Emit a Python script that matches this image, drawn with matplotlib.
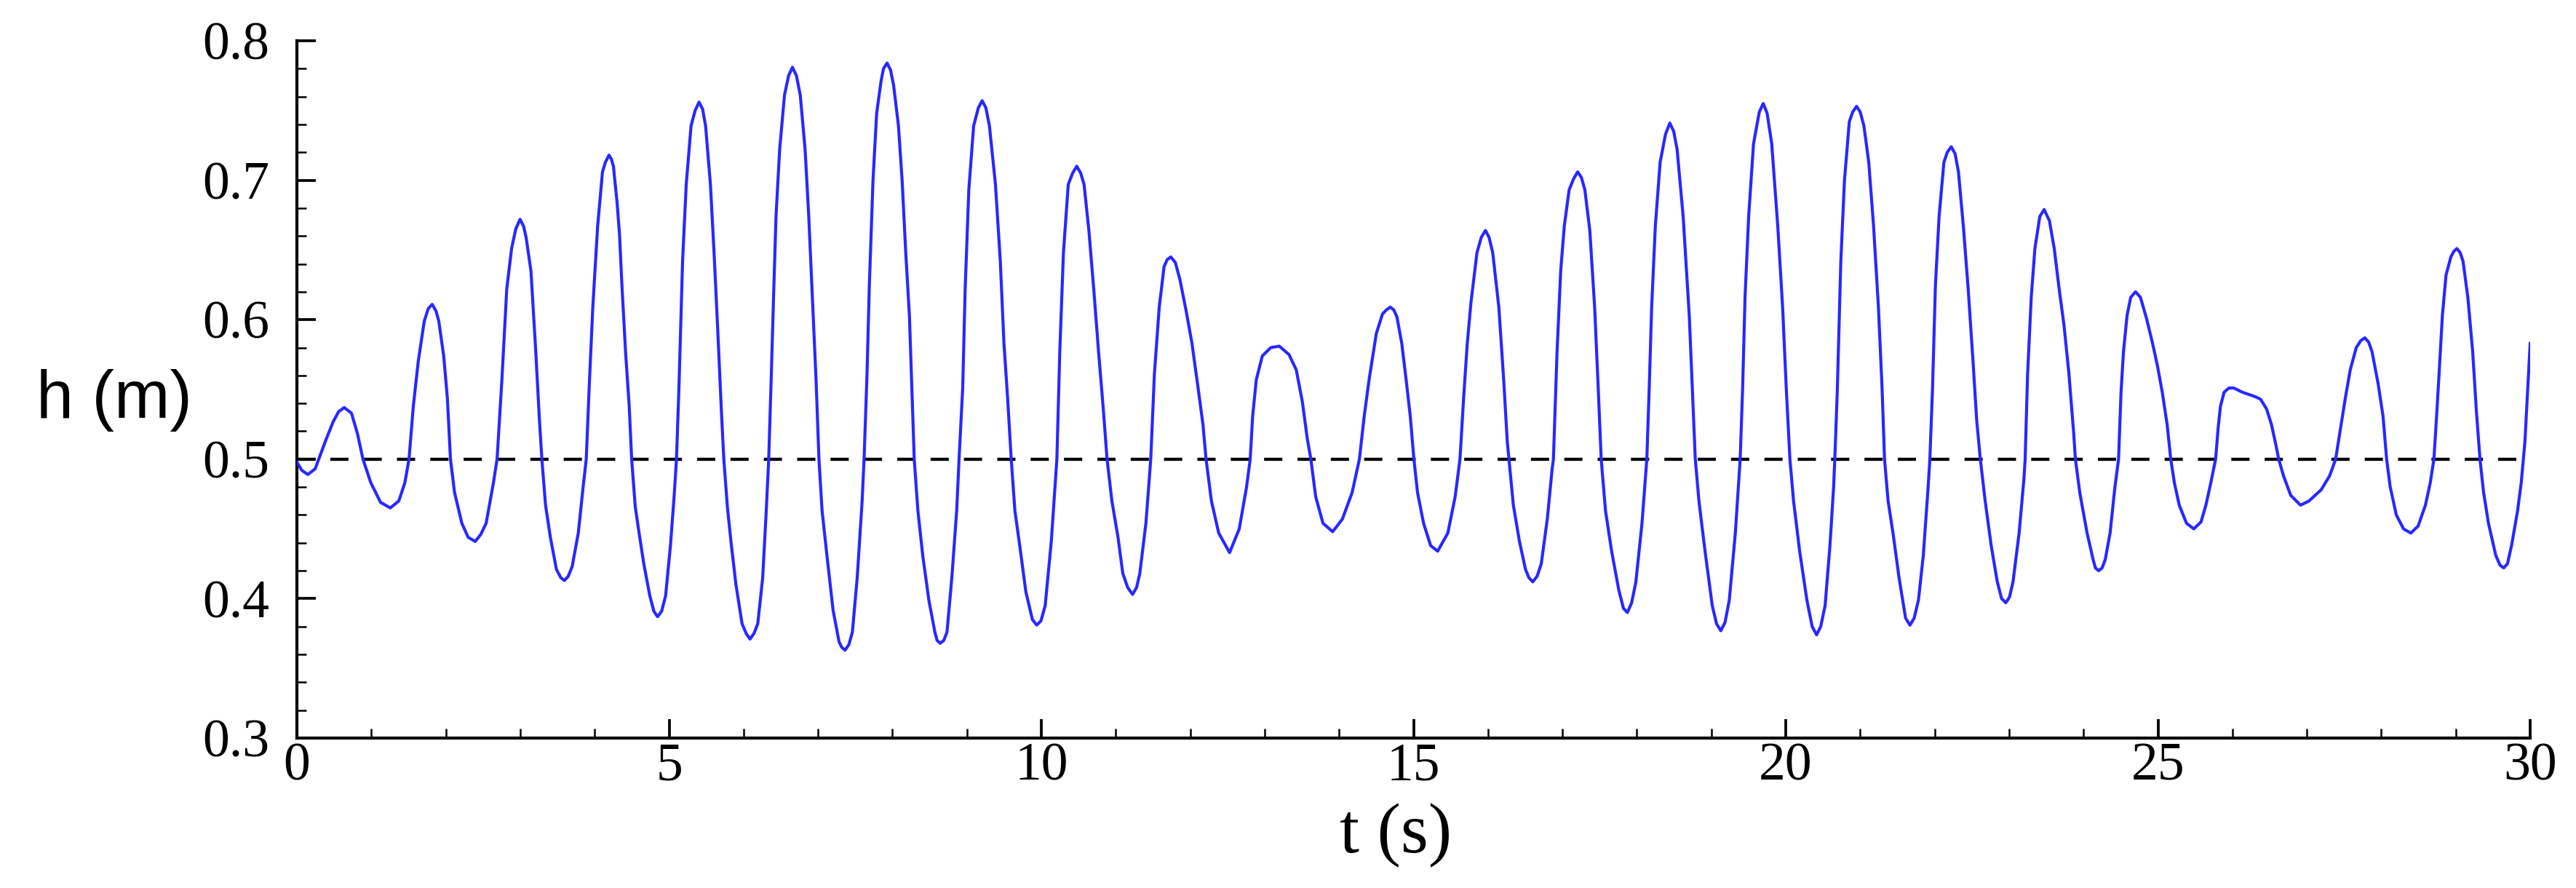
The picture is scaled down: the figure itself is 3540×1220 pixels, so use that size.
import matplotlib
matplotlib.use("Agg")
import matplotlib.pyplot as plt
from matplotlib.ticker import MultipleLocator, FormatStrFormatter

# ---- data ----
t_s = [0.000, 0.065, 0.147, 0.245, 0.294, 0.391, 0.489, 0.560, 0.636, 0.733, 0.815, 0.887, 0.994, 1.124, 1.255,
       1.369, 1.450, 1.506, 1.564, 1.630, 1.711, 1.765, 1.818, 1.870, 1.906, 1.972, 2.021, 2.063, 2.118, 2.216,
       2.300, 2.395, 2.470, 2.542, 2.640, 2.689, 2.754, 2.819, 2.884, 2.940, 2.998, 3.079, 3.144, 3.209, 3.258,
       3.291, 3.340, 3.405, 3.486, 3.594, 3.698, 3.780, 3.845, 3.887, 3.926, 3.975, 4.040, 4.105, 4.193, 4.252,
       4.301, 4.334, 4.366, 4.415, 4.464, 4.497, 4.545, 4.594, 4.660, 4.741, 4.845, 4.953, 5.018, 5.067, 5.099,
       5.132, 5.181, 5.230, 5.295, 5.402, 5.490, 5.555, 5.604, 5.653, 5.702, 5.735, 5.784, 5.833, 5.898, 5.980,
       6.087, 6.191, 6.257, 6.305, 6.338, 6.371, 6.403, 6.436, 6.485, 6.550, 6.657, 6.762, 6.827, 6.876, 6.925,
       6.974, 7.013, 7.055, 7.120, 7.202, 7.283, 7.364, 7.462, 7.527, 7.593, 7.619, 7.658, 7.690, 7.739, 7.788,
       7.847, 7.928, 8.016, 8.081, 8.130, 8.179, 8.228, 8.261, 8.293, 8.342, 8.407, 8.489, 8.570, 8.642, 8.733,
       8.798, 8.863, 8.895, 8.944, 8.977, 9.026, 9.091, 9.205, 9.303, 9.384, 9.449, 9.498, 9.547, 9.596, 9.645,
       9.710, 9.792, 9.938, 10.052, 10.134, 10.183, 10.209, 10.248, 10.297, 10.362, 10.476, 10.574, 10.639,
       10.704, 10.769, 10.834, 10.883, 10.948, 11.030, 11.095, 11.225, 11.323, 11.405, 11.470, 11.519, 11.584,
       11.649, 11.740, 11.800, 11.861, 11.943, 12.024, 12.106, 12.171, 12.213, 12.285, 12.383, 12.529, 12.659,
       12.757, 12.806, 12.839, 12.888, 12.969, 13.083, 13.197, 13.327, 13.425, 13.507, 13.572, 13.621, 13.686,
       13.784, 13.914, 14.044, 14.175, 14.273, 14.338, 14.403, 14.500, 14.582, 14.689, 14.777, 14.842, 14.907,
       14.956, 15.005, 15.054, 15.135, 15.230, 15.324, 15.461, 15.559, 15.624, 15.673, 15.722, 15.771, 15.852,
       15.966, 16.064, 16.146, 16.211, 16.260, 16.282, 16.341, 16.423, 16.504, 16.602, 16.716, 16.797, 16.862,
       16.879, 16.928, 16.977, 17.025, 17.090, 17.205, 17.302, 17.368, 17.433, 17.481, 17.521, 17.579, 17.661,
       17.758, 17.873, 17.987, 18.069, 18.134, 18.166, 18.199, 18.248, 18.313, 18.443, 18.541, 18.622, 18.704,
       18.753, 18.785, 18.834, 18.916, 19.013, 19.128, 19.242, 19.323, 19.388, 19.421, 19.453, 19.502, 19.567,
       19.698, 19.812, 19.893, 19.958, 20.007, 20.056, 20.105, 20.187, 20.284, 20.415, 20.529, 20.594, 20.643,
       20.659, 20.692, 20.740, 20.789, 20.854, 20.952, 21.050, 21.115, 21.180, 21.245, 21.294, 21.327, 21.375,
       21.441, 21.522, 21.669, 21.783, 21.848, 21.913, 21.936, 21.972, 22.011, 22.060, 22.125, 22.223, 22.320,
       22.386, 22.451, 22.516, 22.565, 22.614, 22.679, 22.760, 22.842, 22.956, 23.053, 23.135, 23.200, 23.216,
       23.249, 23.298, 23.347, 23.413, 23.471, 23.542, 23.607, 23.673, 23.738, 23.803, 23.869, 23.891, 23.950,
       24.048, 24.129, 24.204, 24.292, 24.357, 24.422, 24.471, 24.504, 24.537, 24.585, 24.634, 24.699, 24.765,
       24.846, 24.928, 24.993, 25.058, 25.123, 25.172, 25.221, 25.286, 25.384, 25.482, 25.579, 25.644, 25.710,
       25.775, 25.808, 25.840, 25.889, 25.954, 26.019, 26.133, 26.296, 26.378, 26.459, 26.524, 26.589, 26.622,
       26.687, 26.784, 26.915, 27.029, 27.192, 27.306, 27.387, 27.452, 27.518, 27.583, 27.664, 27.778, 27.876,
       27.958, 28.023, 28.072, 28.120, 28.202, 28.299, 28.397, 28.495, 28.593, 28.658, 28.707, 28.740, 28.772,
       28.821, 28.870, 28.935, 29.017, 29.098, 29.163, 29.228, 29.277, 29.326, 29.375, 29.440, 29.538, 29.645,
       29.750, 29.831, 29.880, 29.929, 29.961, 30.000]

h_m = [0.498, 0.492, 0.489, 0.493, 0.500, 0.514, 0.527, 0.534, 0.537, 0.533, 0.518, 0.500, 0.483, 0.469, 0.465,
       0.470, 0.483, 0.500, 0.538, 0.570, 0.599, 0.608, 0.611, 0.606, 0.599, 0.574, 0.544, 0.500, 0.476, 0.454,
       0.444, 0.441, 0.446, 0.454, 0.483, 0.500, 0.557, 0.622, 0.651, 0.665, 0.672, 0.659, 0.635, 0.577, 0.528,
       0.500, 0.467, 0.444, 0.421, 0.413, 0.423, 0.447, 0.480, 0.500, 0.551, 0.609, 0.667, 0.706, 0.718, 0.710,
       0.684, 0.661, 0.625, 0.577, 0.538, 0.500, 0.466, 0.448, 0.425, 0.402, 0.387, 0.402, 0.438, 0.473, 0.500,
       0.551, 0.642, 0.697, 0.739, 0.756, 0.739, 0.697, 0.648, 0.593, 0.535, 0.500, 0.465, 0.440, 0.410, 0.382,
       0.371, 0.382, 0.415, 0.463, 0.500, 0.557, 0.616, 0.674, 0.722, 0.761, 0.781, 0.761, 0.722, 0.674, 0.616,
       0.557, 0.500, 0.463, 0.431, 0.392, 0.369, 0.363, 0.376, 0.415, 0.470, 0.500, 0.560, 0.625, 0.700, 0.748,
       0.771, 0.784, 0.768, 0.739, 0.700, 0.648, 0.603, 0.551, 0.500, 0.463, 0.431, 0.399, 0.376, 0.368, 0.376,
       0.415, 0.463, 0.500, 0.551, 0.622, 0.693, 0.739, 0.757, 0.739, 0.697, 0.642, 0.583, 0.544, 0.500, 0.463,
       0.438, 0.405, 0.381, 0.395, 0.441, 0.480, 0.500, 0.577, 0.648, 0.697, 0.710, 0.697, 0.664,
       0.622, 0.577, 0.535, 0.500, 0.470, 0.444, 0.418, 0.403, 0.418, 0.454, 0.500, 0.561, 0.609,
       0.638, 0.645, 0.641, 0.629, 0.607, 0.583, 0.551, 0.525, 0.500, 0.470, 0.447, 0.433, 0.450,
       0.480, 0.500, 0.531, 0.557, 0.574, 0.580, 0.581, 0.575, 0.564, 0.541, 0.515, 0.500, 0.473,
       0.454, 0.448, 0.457, 0.476, 0.500, 0.531, 0.557, 0.590, 0.604, 0.609, 0.602, 0.583, 0.554,
       0.531, 0.500, 0.476, 0.454, 0.438, 0.434, 0.447, 0.473, 0.500, 0.544, 0.583, 0.612, 0.648,
       0.664, 0.648, 0.609, 0.557, 0.512, 0.500, 0.467, 0.441, 0.421, 0.412, 0.425, 0.457, 0.493,
       0.500, 0.577, 0.635, 0.667, 0.693, 0.706, 0.693, 0.664, 0.609, 0.551, 0.500, 0.463, 0.434,
       0.406, 0.390, 0.412, 0.454, 0.500, 0.551, 0.609, 0.667, 0.713, 0.741, 0.722, 0.674, 0.603,
       0.541, 0.500, 0.470, 0.434, 0.395, 0.377, 0.399, 0.447, 0.500, 0.551, 0.616, 0.674, 0.726,
       0.755, 0.726, 0.667, 0.609, 0.551, 0.500, 0.470, 0.434, 0.399, 0.374, 0.395, 0.438, 0.480,
       0.500, 0.548, 0.642, 0.700, 0.742, 0.753, 0.739, 0.713, 0.667, 0.609, 0.551, 0.500, 0.470,
       0.447, 0.415, 0.381, 0.399, 0.431, 0.480, 0.500, 0.551, 0.625, 0.674, 0.713, 0.724, 0.706,
       0.667, 0.622, 0.570, 0.528, 0.500, 0.470, 0.438, 0.412, 0.397, 0.412, 0.447, 0.486, 0.500,
       0.561, 0.616, 0.651, 0.674, 0.679, 0.671, 0.651, 0.622, 0.596, 0.562, 0.518, 0.500, 0.476,
       0.447, 0.428, 0.420, 0.428, 0.447, 0.480, 0.500, 0.548, 0.577, 0.603, 0.616, 0.620, 0.616,
       0.601, 0.583, 0.567, 0.548, 0.525, 0.500, 0.483, 0.467, 0.454, 0.450, 0.455, 0.467, 0.483,
       0.500, 0.522, 0.538, 0.548, 0.551, 0.551, 0.548, 0.545, 0.543, 0.536, 0.525, 0.509, 0.500,
       0.488, 0.474, 0.467, 0.470, 0.478, 0.488, 0.500, 0.522, 0.544, 0.564, 0.580, 0.587, 0.577,
       0.554, 0.531, 0.500, 0.480, 0.460, 0.450, 0.447, 0.452, 0.467, 0.483, 0.500, 0.528, 0.557,
       0.603, 0.632, 0.645, 0.651, 0.642, 0.616, 0.577, 0.535, 0.500, 0.476, 0.454, 0.431, 0.422,
       0.438, 0.463, 0.483, 0.512, 0.544, 0.583]

# extra samples read near crests and troughs (rounded tops)
crest_t = [3.045, 4.145, 4.225, 5.350, 5.450, 6.605, 6.710, 7.880, 7.975, 9.155, 9.255, 10.420, 10.530,
           11.690, 14.635, 14.735, 15.910, 16.015, 17.150, 17.255, 18.385, 18.495, 19.645, 19.750,
           20.900, 21.000, 22.170, 22.275, 27.725, 27.830, 28.975, 29.060]
crest_h = [0.667, 0.713, 0.715, 0.750, 0.751, 0.775, 0.775, 0.780, 0.779, 0.752, 0.752, 0.705, 0.705,
           0.643, 0.607, 0.607, 0.659, 0.659, 0.701, 0.702, 0.733, 0.735, 0.749, 0.748,
           0.749, 0.749, 0.720, 0.719, 0.585, 0.584, 0.649, 0.648]
trough_t = [3.545, 3.645, 4.795, 4.900, 6.035, 6.140, 7.320, 7.415, 8.600, 8.690, 9.880, 9.995,
            11.160, 11.280, 16.550, 16.660, 17.820, 17.930, 19.070, 19.185, 20.355, 20.470,
            21.610, 21.725, 22.900, 23.005, 24.160, 24.250, 29.595, 29.695]
trough_h = [0.415, 0.416, 0.391, 0.391, 0.375, 0.375, 0.365, 0.367, 0.370, 0.370, 0.385, 0.384,
            0.408, 0.408, 0.415, 0.416, 0.393, 0.397, 0.382, 0.383, 0.380, 0.380,
            0.386, 0.386, 0.400, 0.401, 0.422, 0.422, 0.424, 0.425]

still_level = 0.5
x_limits = (0, 30)
y_limits = (0.3, 0.8)
x_label = "t (s)"
y_label = "h (m)"

# merge all read samples in time order
samples = sorted(zip(t_s + crest_t + trough_t, h_m + crest_h + trough_h))
t_all = [p[0] for p in samples]
h_all = [p[1] for p in samples]

# ---- figure ----
plt.rcParams['lines.scale_dashes'] = False
W, H, DPI = 3540, 1220, 100
fig = plt.figure(figsize=(W / DPI, H / DPI), dpi=DPI)
ax = fig.add_axes([408 / W, 1 - 1014 / H, (3477 - 408) / W, (1014 - 56) / H])

ax.plot(t_all, h_all, color='#2828ff', lw=3.0, solid_joinstyle='round', zorder=3)
ax.plot(x_limits, [still_level, still_level], color='black', lw=3.1,
        linestyle=(0, (18, 15)), zorder=2)

ax.set_xlim(*x_limits)
ax.set_ylim(*y_limits)

for s in ('top', 'right'):
    ax.spines[s].set_visible(False)
for s in ('left', 'bottom'):
    ax.spines[s].set_linewidth(3.0)

ax.xaxis.set_major_locator(MultipleLocator(5))
ax.xaxis.set_minor_locator(MultipleLocator(1))
ax.yaxis.set_major_locator(MultipleLocator(0.1))
ax.yaxis.set_minor_locator(MultipleLocator(0.02))
ax.yaxis.set_major_formatter(FormatStrFormatter('%.1f'))

ax.tick_params(which='major', direction='in', length=18.5, width=2.7, top=False, right=False)
ax.tick_params(which='minor', direction='in', length=9.4, width=1.8, top=False, right=False)
ax.tick_params(axis='y', which='major', pad=27)
ax.tick_params(axis='x', which='major', pad=4)

for lab in ax.get_xticklabels() + ax.get_yticklabels():
    lab.set_fontfamily('Liberation Serif')
    lab.set_fontsize(53)

ax.set_xlabel(x_label, fontfamily='Liberation Serif', fontsize=70)
ax.xaxis.set_label_coords(0.492, -0.14)
ax.xaxis.label.set_va('center')

ax.set_ylabel(y_label, fontfamily='Liberation Sans', fontsize=66, rotation=0,
              ha='left', va='center')
ax.yaxis.set_label_coords(-0.1167, 0.484)

fig.savefig('out.png', dpi=DPI)
